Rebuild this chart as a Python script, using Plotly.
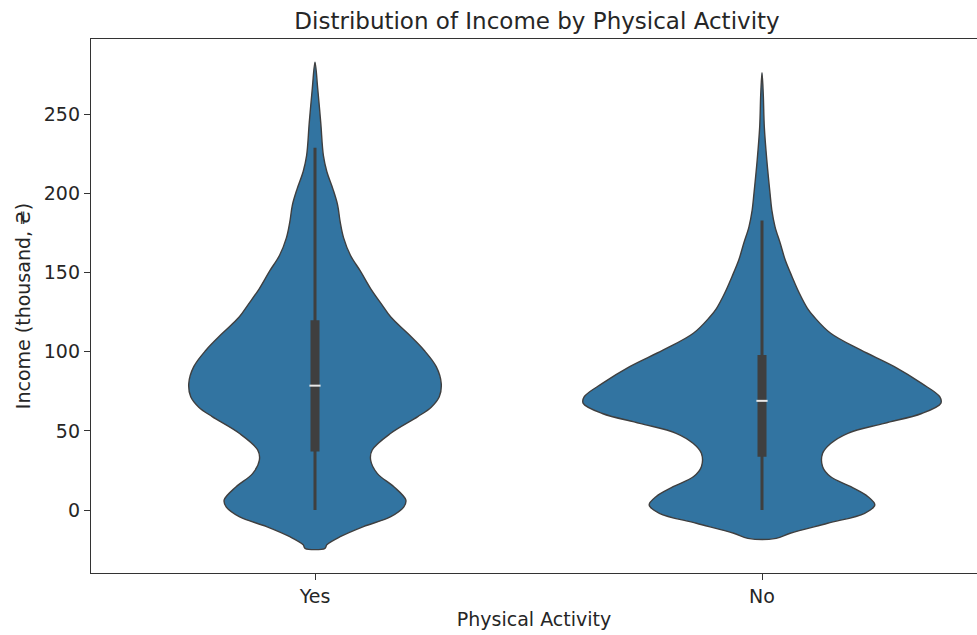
import numpy as np
import plotly.graph_objects as go

categories = ["Yes", "No"]

# Kernel density outline per group: income grid (thousand) and relative density
yes_income = [283.0, 266.6, 245.0, 224.0, 214.0, 203.0, 193.0, 182.0, 172.0, 161.0,
              151.0, 140.0, 130.0, 122.0, 111.7, 101.0, 90.6, 80.0, 71.6, 65.0,
              59.0, 48.5, 37.9, 31.6, 23.0, 14.7, 6.3, 2.0, -4.2, -10.5,
              -16.9, -22.0, -24.2]
yes_density = [0.0, 0.015, 0.032, 0.047, 0.066, 0.100, 0.126, 0.141, 0.160, 0.198,
               0.254, 0.311, 0.373, 0.424, 0.518, 0.610, 0.678, 0.706, 0.695, 0.650,
               0.575, 0.424, 0.320, 0.311, 0.349, 0.441, 0.508, 0.497, 0.424, 0.271,
               0.141, 0.066, 0.056]

no_income = [276.4, 263.0, 242.0, 221.0, 200.0, 189.6, 179.0, 168.6, 158.0, 147.5,
             137.0, 127.5, 122.0, 111.7, 101.0, 90.6, 80.0, 71.6, 67.4, 61.0,
             54.8, 48.5, 42.0, 35.8, 27.4, 21.0, 14.7, 8.4, 3.2, -2.1,
             -8.4, -14.7, -17.9]
no_density = [0.0, 0.007, 0.013, 0.027, 0.045, 0.055, 0.073, 0.102, 0.130, 0.168,
              0.209, 0.254, 0.292, 0.384, 0.554, 0.740, 0.893, 0.994, 1.0, 0.893,
              0.684, 0.480, 0.384, 0.339, 0.339, 0.384, 0.497, 0.593, 0.631, 0.574,
              0.367, 0.158, 0.079]

# Box summary per group (thousand)
whisker_low = [0.0, 0.0]
q1 = [37.0, 33.7]
median = [78.6, 69.0]
q3 = [120.0, 98.0]
whisker_high = [229.0, 183.0]

profiles = [(yes_income, yes_density), (no_income, no_density)]

FILL = "#3274a1"
EDGE = "#3f3f3f"
FONT = "DejaVu Sans"
TEXT = "#262626"

fig = go.Figure()

# the widest violin spans 0.8 category units
peak = max(max(d) for _, d in profiles)
half_width = 0.4 / peak

for i, (inc, dens) in enumerate(profiles):
    inc = np.asarray(inc)
    dens = np.asarray(dens)
    xs = np.concatenate([i + dens * half_width, (i - dens * half_width)[::-1]])
    ys = np.concatenate([inc, inc[::-1]])
    fig.add_trace(go.Scatter(
        x=xs, y=ys, mode="lines", fill="toself", fillcolor=FILL,
        line=dict(color=EDGE, width=1.4, shape="spline", smoothing=1.0),
        hoverinfo="skip", showlegend=False,
    ))

for i in range(len(categories)):
    # whisker
    fig.add_trace(go.Scatter(
        x=[i, i], y=[whisker_low[i], whisker_high[i]], mode="lines",
        line=dict(color=EDGE, width=3), showlegend=False, hoverinfo="skip",
    ))
    # interquartile box
    fig.add_trace(go.Scatter(
        x=[i, i], y=[q1[i], q3[i]], mode="lines",
        line=dict(color=EDGE, width=9), showlegend=False, hoverinfo="skip",
    ))
    # median tick
    fig.add_trace(go.Scatter(
        x=[i], y=[median[i]], mode="markers",
        marker=dict(symbol="line-ew", size=8, line=dict(color="#e8e8e8", width=2)),
        showlegend=False, hoverinfo="skip",
    ))

fig.update_layout(
    width=977, height=635,
    margin=dict(l=91, r=0, t=39, b=62),
    paper_bgcolor="white", plot_bgcolor="white",
    font=dict(family=FONT, color=TEXT, size=19),
    title=dict(text="Distribution of Income by Physical Activity",
               x=537 / 977, xanchor="center",
               y=1 - 21 / 635, yanchor="middle", yref="container",
               font=dict(family=FONT, size=23, color=TEXT)),
    xaxis=dict(
        range=[(91 - 315) / 447, (977 - 315) / 447],
        tickmode="array", tickvals=list(range(len(categories))), ticktext=categories,
        showgrid=False, zeroline=False,
        showline=True, linecolor="#333333", linewidth=1.3, mirror=True,
        ticks="outside", ticklen=6, tickwidth=1.3, tickcolor="#333333",
        tickfont=dict(family=FONT, size=19, color=TEXT),
        title=dict(text="Physical Activity", standoff=6,
                   font=dict(family=FONT, size=19, color=TEXT)),
    ),
    yaxis=dict(
        range=[(510 - 573) / 1.582, (510 - 39) / 1.582],
        tickmode="array", tickvals=[0, 50, 100, 150, 200, 250],
        showgrid=False, zeroline=False,
        showline=True, linecolor="#333333", linewidth=1.3,
        ticks="outside", ticklen=6, tickwidth=1.3, tickcolor="#333333",
        tickfont=dict(family=FONT, size=19, color=TEXT),
        title=dict(text="Income (thousand, ₴)", standoff=8,
                   font=dict(family=FONT, size=19, color=TEXT)),
    ),
)

fig.write_html("out.html")
